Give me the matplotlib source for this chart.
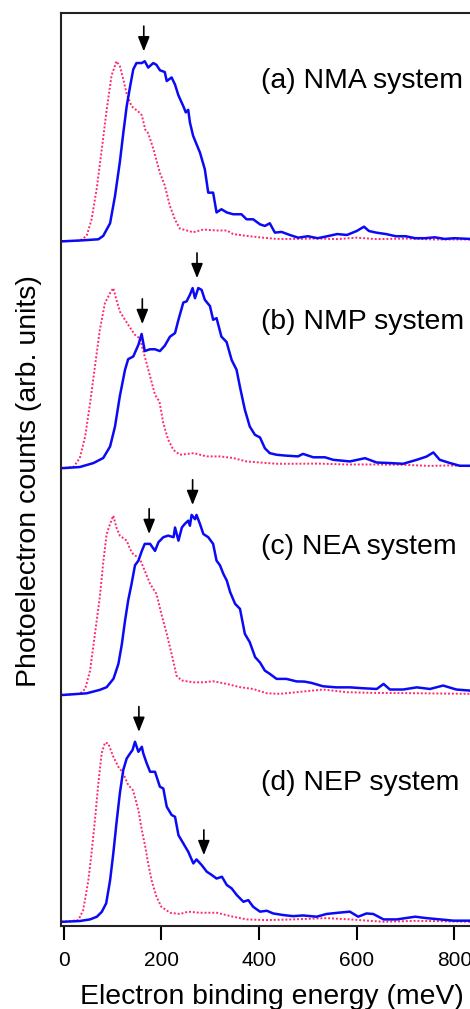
import numpy as np
import matplotlib
matplotlib.use('Agg')
import matplotlib.pyplot as plt

plt.rcParams['font.family'] = ['Liberation Sans', 'DejaVu Sans']

# ---- data (energy in meV, intensity normalised to peak) ----
a_blue_e = [-5, 0, 38, 71, 81, 95, 105, 115, 122, 129, 136, 142.5, 149, 160, 166, 173, 183.5, 190, 197, 207,
            211, 221, 228, 235, 245, 250, 255, 258.5, 265, 279, 289, 296, 306, 313, 323, 334, 347, 364, 374.5, 388,
            402, 412, 422, 432.5, 446, 463, 480, 500, 520, 540, 560, 580, 600, 615, 625, 640, 660, 680, 700, 720,
            740, 760, 780, 800, 832]
a_blue_i = [0, 0, 0.005, 0.011, 0.03, 0.10, 0.25, 0.44, 0.60, 0.75, 0.86, 0.955, 0.99, 0.99, 1.0, 0.965, 0.99, 0.98, 0.95, 0.94,
            0.89, 0.91, 0.87, 0.81, 0.75, 0.716, 0.73, 0.66, 0.586, 0.493, 0.40, 0.27, 0.27, 0.16, 0.178, 0.16, 0.15, 0.15, 0.122, 0.122,
            0.094, 0.085, 0.10, 0.048, 0.052, 0.035, 0.02, 0.028, 0.017, 0.028, 0.04, 0.035, 0.057, 0.081, 0.057, 0.048, 0.04, 0.028, 0.028, 0.017,
            0.017, 0.022, 0.013, 0.017, 0.013]
a_red_e = [-5, 0, 33, 47, 57, 67.5, 78, 88, 98, 108, 115, 122, 129, 139, 153, 160, 167, 173, 184, 197,
           207, 217, 228, 238, 252, 265, 286, 313, 334, 347, 374, 408, 436, 470, 520, 560, 600, 640, 700, 760, 832]
a_red_i = [0, 0, 0.003, 0.03, 0.12, 0.29, 0.51, 0.73, 0.92, 1.0, 0.973, 0.90, 0.82, 0.75, 0.72, 0.70, 0.62, 0.60, 0.51, 0.38,
           0.31, 0.20, 0.12, 0.07, 0.06, 0.05, 0.065, 0.06, 0.06, 0.04, 0.03, 0.02, 0.013, 0.013, 0.015, 0.012, 0.02, 0.012, 0.015, 0.01, 0.01]

b_blue_e = [-5, 0, 33, 61, 81, 95, 105, 115, 125.5, 132, 142.5, 153, 159.6, 166, 176.6, 187, 197, 207, 217.6, 228,
            234.6, 245, 251.7, 258.5, 264, 268.8, 275.6, 282.4, 289, 299.5, 306, 313, 323, 333.6, 344, 354, 361, 371, 381, 391.6,
            402, 412, 422, 436, 456, 480, 490, 511, 535, 552, 586, 617, 641, 668, 695, 723, 743, 757, 770, 791,
            811, 832]
b_blue_i = [0, 0, 0.006, 0.028, 0.056, 0.12, 0.23, 0.40, 0.545, 0.605, 0.62, 0.685, 0.745, 0.65, 0.66, 0.66, 0.65, 0.68, 0.73, 0.75,
            0.82, 0.92, 0.926, 0.963, 1.0, 0.944, 1.0, 0.99, 0.935, 0.90, 0.824, 0.833, 0.73, 0.70, 0.60, 0.546, 0.45, 0.324, 0.231, 0.185,
            0.17, 0.11, 0.083, 0.074, 0.069, 0.065, 0.079, 0.06, 0.06, 0.046, 0.037, 0.055, 0.031, 0.028, 0.024, 0.046, 0.064, 0.087, 0.046, 0.028,
            0.013, 0.013]
b_red_e = [-5, 0, 20, 33, 44, 54, 64, 74, 84.5, 95, 101.6, 108, 115, 125.5, 136, 146, 156, 166, 177, 187,
           196, 204, 214, 225, 238, 266, 293, 320, 347, 374, 402, 436, 470, 520, 580, 640, 700, 750, 790, 832]
b_red_i = [0, 0, 0.006, 0.056, 0.176, 0.36, 0.565, 0.768, 0.917, 0.972, 1.0, 0.935, 0.87, 0.824, 0.78, 0.74, 0.72, 0.62, 0.509, 0.407,
           0.37, 0.25, 0.157, 0.10, 0.074, 0.083, 0.065, 0.065, 0.056, 0.037, 0.031, 0.024, 0.024, 0.025, 0.02, 0.02, 0.018, 0.012, 0.015, 0.01]

c_blue_e = [-5, 0, 47, 74, 88, 102, 112, 119, 125.5, 132, 139, 146, 153, 160, 166, 177, 187, 194, 204, 214,
            225, 228, 235, 242, 248, 255, 258.5, 262, 269, 272, 279, 286, 296, 306, 313, 320, 327, 334, 341, 351,
            361, 371, 381, 392, 402, 412, 422, 436, 456, 477, 493, 507, 531, 558, 586, 613, 641, 655, 668, 695,
            723, 750, 777, 804, 832]
c_blue_i = [0, 0, 0.009, 0.028, 0.043, 0.09, 0.172, 0.28, 0.41, 0.524, 0.617, 0.72, 0.746, 0.80, 0.839, 0.839, 0.80, 0.848, 0.876, 0.885,
            0.876, 0.93, 0.857, 0.93, 0.95, 0.968, 0.94, 1.0, 0.976, 1.0, 0.95, 0.894, 0.876, 0.839, 0.746, 0.72, 0.672, 0.635, 0.57, 0.506,
            0.478, 0.339, 0.293, 0.21, 0.18, 0.135, 0.117, 0.089, 0.089, 0.075, 0.074, 0.067, 0.048, 0.042, 0.042, 0.037, 0.033, 0.061, 0.03, 0.03,
            0.042, 0.033, 0.052, 0.03, 0.024]
c_red_e = [-5, 0, 33, 44, 54, 64, 74, 81, 88, 95, 101.6, 108, 115, 129, 136, 142, 156, 166, 177, 190,
           200, 211, 221, 231, 241.5, 266, 286, 306, 334, 361, 388, 416, 443, 477, 531, 580, 640, 700, 760, 832]
c_red_i = [0, 0, 0.006, 0.033, 0.135, 0.339, 0.543, 0.737, 0.894, 0.95, 0.996, 0.93, 0.885, 0.857, 0.81, 0.783, 0.755, 0.69, 0.617, 0.561,
           0.45, 0.339, 0.228, 0.107, 0.08, 0.07, 0.07, 0.076, 0.061, 0.043, 0.033, 0.009, 0.006, 0.015, 0.03, 0.015, 0.011, 0.01, 0.008, 0.006]

d_blue_e = [-5, 0, 33, 54, 68, 78, 87, 95, 101.6, 108, 115, 122, 129, 136, 141, 146, 153, 160, 163, 170,
            177, 187, 197, 204, 211, 221, 228, 235, 245, 255, 265.5, 272, 282.5, 293, 303, 313, 324, 334, 344, 354.5,
            368, 378, 388, 402, 416, 429, 450, 470, 490, 518, 538, 562, 586, 603, 620, 634, 655, 682, 720, 743,
            771, 798, 832]
d_blue_i = [0, 0, 0.004, 0.013, 0.028, 0.055, 0.102, 0.23, 0.38, 0.546, 0.713, 0.843, 0.907, 0.935, 0.954, 1.0, 0.944, 0.972, 0.935, 0.88,
            0.833, 0.833, 0.75, 0.74, 0.639, 0.593, 0.583, 0.481, 0.435, 0.389, 0.324, 0.346, 0.315, 0.278, 0.26, 0.24, 0.25, 0.204, 0.185, 0.148,
            0.111, 0.12, 0.083, 0.056, 0.061, 0.046, 0.037, 0.031, 0.035, 0.028, 0.043, 0.05, 0.056, 0.028, 0.046, 0.043, 0.013, 0.013, 0.028, 0.02,
            0.013, 0.006, 0.006]
d_red_e = [-5, 0, 30, 40, 50.5, 57, 64, 71, 77.7, 84.5, 91.3, 101.6, 112, 122, 132, 142, 153, 160, 167, 173,
           180, 190, 200, 218, 238, 255, 279, 313, 347, 374, 416, 470, 538, 586, 655, 720, 770, 832]
d_red_i = [0, 0, 0.009, 0.065, 0.23, 0.38, 0.565, 0.77, 0.935, 0.995, 0.99, 0.917, 0.86, 0.824, 0.76, 0.73, 0.62, 0.509, 0.417, 0.324,
           0.23, 0.139, 0.083, 0.05, 0.043, 0.056, 0.05, 0.05, 0.028, 0.013, 0.009, 0.013, 0.02, 0.013, 0.0, 0.005, 0.003, 0.0]

labels = ['(a) NMA system', '(b) NMP system', '(c) NEA system', '(d) NEP system']
arrows = [[164], [161, 273], [175, 264], [154, 287]]   # marked peak energies (meV)

blue = [(a_blue_e, a_blue_i), (b_blue_e, b_blue_i), (c_blue_e, c_blue_i), (d_blue_e, d_blue_i)]
red = [(a_red_e, a_red_i), (b_red_e, b_red_i), (c_red_e, c_red_i), (d_red_e, d_red_i)]

# ---- plot ----
step = 1.26
label_y = [0.89, 0.81, 0.82, 0.77]

fig = plt.figure(figsize=(4.70, 10.09), dpi=100)
ax = fig.add_axes([61/470, 1 - 925.7/1009, 1 - 61/470, (925.7 - 13)/1009])

for k in range(4):
    off = (3 - k)*step
    re, ri = red[k]
    be, bi = blue[k]
    ax.plot(re, np.array(ri) + off, color='#ff2a6a', lw=1.4, ls=(0, (1, 1)))
    ax.plot(be, np.array(bi) + off, color='#0a0af5', lw=1.8)
    ax.text(404, off + label_y[k], labels[k], fontsize=20.4, va='center', ha='left')
    for x in arrows[k]:
        be_a = np.array(be); bi_a = np.array(bi)
        m = (be_a > x - 10) & (be_a < x + 10)
        tip = bi_a[m].max() + 0.055 + off
        ax.annotate('', xy=(x, tip), xytext=(x, tip + 0.14),
                    arrowprops=dict(arrowstyle='-|>,head_length=0.8,head_width=0.32',
                                    color='k', lw=1.2, shrinkA=0, shrinkB=0,
                                    mutation_scale=11))

ax.set_xlim(-5.5, 832)
ax.set_ylim(-0.022, 5.048)
ax.set_xticks([0, 200, 400, 600, 800])
ax.set_yticks([])
ax.tick_params(axis='x', direction='out', length=10, width=1.5, pad=8, labelsize=15)
ax.spines['right'].set_visible(False)
for s in ['left', 'top', 'bottom']:
    ax.spines[s].set_linewidth(1.5)
    ax.spines[s].set_color('#222222')

fig.text(272/470, 1 - 997/1009, 'Electron binding energy (meV)', fontsize=20.4, ha='center', va='center')
fig.text(29/470, 1 - 481/1009, 'Photoelectron counts (arb. units)', fontsize=20.5, ha='center', va='center', rotation=90)

plt.savefig('out.png', dpi=100)
